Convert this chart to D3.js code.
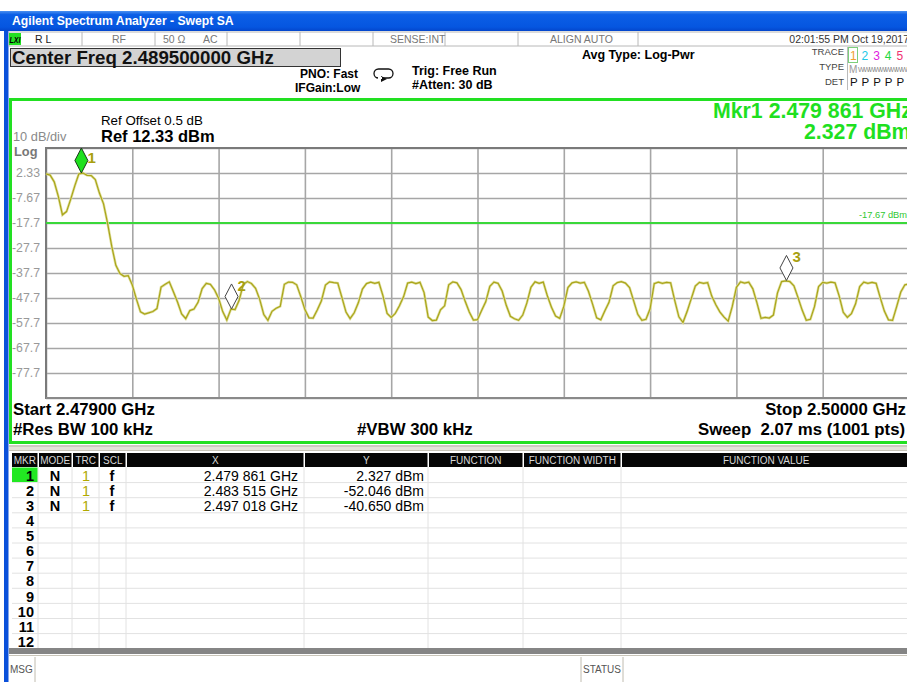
<!DOCTYPE html>
<html><head><meta charset="utf-8">
<script src="https://cdn.jsdelivr.net/npm/d3@7"></script>
<style>
body{margin:0;background:#fff;}
svg{display:block;font-family:"Liberation Sans",Arial,sans-serif;}
</style>
</head><body>
<svg id="c" width="907" height="682"></svg>
<script>
// ---------------- DATA ----------------
const startMHz = 2479.0, stopMHz = 2500.0, stepMHz = 0.1;
const refLevel = 12.33, dbPerDiv = 10, nDiv = 10;
const traceLevels = [
 2.0,1.5,-1.2,-7.0,-14.4,-13.1,-8.2,-2.8,2.0,2.3,
 1.4,1.3,-0.3,-5.7,-10.0,-17.9,-27.0,-34.6,-37.9,-39.0,
 -38.7,-42.5,-48.1,-53.2,-54.1,-53.6,-53.1,-51.9,-43.3,-42.2,
 -41.2,-45.2,-49.3,-54.0,-55.9,-52.7,-52.1,-49.4,-43.9,-41.8,
 -42.2,-44.4,-47.8,-53.1,-56.5,-52.1,-52.3,-48.6,-42.2,-41.1,
 -41.9,-43.8,-48.2,-54.3,-56.6,-53.0,-51.8,-51.0,-42.2,-41.3,
 -41.4,-42.4,-47.1,-52.3,-55.6,-55.7,-52.5,-48.9,-42.5,-41.2,
 -41.5,-41.7,-47.4,-53.3,-55.9,-53.6,-49.6,-44.1,-41.9,-41.3,
 -41.8,-41.4,-46.8,-53.8,-55.4,-53.8,-50.8,-47.2,-41.7,-41.3,
 -41.9,-41.4,-45.5,-55.3,-56.7,-56.5,-52.4,-50.8,-42.4,-41.2,
 -41.6,-44.3,-49.0,-53.3,-56.5,-56.3,-52.7,-49.2,-43.0,-41.3,
 -41.8,-44.9,-50.6,-55.0,-56.0,-56.6,-54.5,-49.7,-43.4,-41.2,
 -41.8,-41.3,-46.8,-51.4,-54.9,-55.8,-51.0,-43.5,-41.6,-41.2,
 -41.7,-41.4,-45.0,-50.1,-55.6,-56.4,-52.8,-49.4,-42.8,-41.5,
 -41.1,-41.7,-43.5,-48.8,-54.2,-56.6,-56.2,-52.0,-41.9,-41.3,
 -41.8,-41.4,-41.6,-48.7,-55.2,-57.5,-53.1,-48.0,-42.9,-41.4,
 -41.8,-41.5,-46.9,-50.4,-53.3,-55.3,-56.9,-51.0,-43.4,-41.2,
 -41.7,-41.3,-44.0,-49.6,-55.8,-55.4,-55.7,-54.5,-45.6,-41.1,
 -40.8,-41.1,-42.8,-47.5,-52.5,-56.6,-56.2,-51.1,-43.1,-41.4,
 -41.7,-41.3,-41.6,-46.8,-53.4,-55.4,-53.9,-50.0,-43.1,-41.3,
 -41.8,-41.4,-41.8,-47.5,-52.9,-56.4,-56.6,-51.1,-45.3,-42.4,
 -42.0];
const yTickValues = [2.33,-7.67,-17.67,-27.67,-37.67,-47.67,-57.67,-67.67,-77.67];
const yTickLabels = ["2.33","-7.67","-17.7","-27.7","-37.7","-47.7","-57.7","-67.7","-77.7"];
const displayLine = -17.67;
const displayLineLabel = "-17.67 dBm";
const markerNums = [1,2,3];
const markerFreqs = [2479.861, 2483.515, 2497.018];
const markerLevels = [2.327, -52.046, -40.650];
const markerXText = ["2.479 861 GHz","2.483 515 GHz","2.497 018 GHz"];
const markerYText = ["2.327 dBm","-52.046 dBm","-40.650 dBm"];
const tableHeaders = ["MKR","MODE","TRC","SCL","X","Y","FUNCTION","FUNCTION WIDTH","FUNCTION VALUE"];
const tableRowCount = 12;

// ---------------- DRAW ----------------
const svg = d3.select("#c");
const FONT = '"Liberation Sans",Arial,sans-serif';

// window chrome
const defs = svg.append("defs");
const g1 = defs.append("linearGradient").attr("id","tb").attr("x1",0).attr("y1",0).attr("x2",0).attr("y2",1);
g1.append("stop").attr("offset","0%").attr("stop-color","#4a90f0");
g1.append("stop").attr("offset","18%").attr("stop-color","#0c5fe6");
g1.append("stop").attr("offset","80%").attr("stop-color","#0556e0");
g1.append("stop").attr("offset","100%").attr("stop-color","#0346cc");
svg.append("rect").attr("x",0).attr("y",11).attr("width",907).attr("height",20).attr("fill","url(#tb)");
svg.append("text").attr("x",12).attr("y",25).attr("fill","#fff").attr("font-weight","bold")
  .attr("font-size",12.2).text("Agilent Spectrum Analyzer - Swept SA");
svg.append("rect").attr("x",4).attr("y",31).attr("width",4.5).attr("height",651).attr("fill","#0a50da");

// status row
svg.append("rect").attr("x",9).attr("y",32).attr("width",900).attr("height",14).attr("fill","#fff").attr("stroke","#b8b8b8");
[82,155,227,300,373,445,518,638].forEach(x=>{
  svg.append("line").attr("x1",x).attr("x2",x).attr("y1",32).attr("y2",46).attr("stroke","#b8b8b8");
});
svg.append("rect").attr("x",9).attr("y",33).attr("width",12).attr("height",12).attr("fill","#22e022");
svg.append("text").attr("x",9.5).attr("y",43).attr("font-size",9).attr("font-weight","bold").attr("font-style","italic")
  .attr("textLength",11).attr("lengthAdjust","spacingAndGlyphs").attr("fill","#000").text("LXI");
const stTxt = [["R L",35,"start","#222"],["RF",112,"start","#777"],["50 Ω",163,"start","#777"],["AC",203,"start","#777"],
  ["SENSE:INT",390,"start","#777"],["ALIGN AUTO",550,"start","#777"],["02:01:55 PM Oct 19,2017",909,"end","#333"]];
stTxt.forEach(d=>svg.append("text").attr("x",d[1]).attr("y",43).attr("font-size",10.5).attr("fill",d[3]).attr("text-anchor",d[2]).text(d[0]));

// center freq box
svg.append("rect").attr("x",10.5).attr("y",48.5).attr("width",330).attr("height",18).attr("fill","#d3d3d3").attr("stroke","#333");
svg.append("text").attr("x",12).attr("y",64).attr("font-size",18.7).attr("font-weight","bold").attr("fill","#111").text("Center Freq 2.489500000 GHz");

svg.append("text").attr("x",300).attr("y",78).attr("font-size",12).attr("font-weight","bold").text("PNO: Fast");
svg.append("text").attr("x",295).attr("y",92).attr("font-size",12).attr("font-weight","bold").text("IFGain:Low");
svg.append("rect").attr("x",374).attr("y",69).attr("width",19).attr("height",9).attr("rx",4.5).attr("fill","none").attr("stroke","#111").attr("stroke-width",1.3);
svg.append("path").attr("d","M381,76 L387,79 L381,82 Z").attr("fill","#111");
svg.append("rect").attr("x",378).attr("y",77).attr("width",4).attr("height",2).attr("fill","#fff");
svg.append("text").attr("x",412).attr("y",75).attr("font-size",12.5).attr("font-weight","bold").text("Trig: Free Run");
svg.append("text").attr("x",412).attr("y",89).attr("font-size",12.5).attr("font-weight","bold").text("#Atten: 30 dB");
svg.append("text").attr("x",582).attr("y",59).attr("font-size",12.5).attr("font-weight","bold").text("Avg Type: Log-Pwr");

// trace indicator
[["TRACE",55],["TYPE",70],["DET",85]].forEach(d=>svg.append("text").attr("x",844).attr("y",d[1]).attr("font-size",9.5).attr("fill","#444").attr("text-anchor","end").text(d[0]));
svg.append("line").attr("x1",847.5).attr("x2",847.5).attr("y1",47).attr("y2",90).attr("stroke","#bbb");
svg.append("rect").attr("x",848.5).attr("y",47.5).attr("width",9).attr("height",15).attr("fill","none").attr("stroke","#7ccf7c");
const trCols = ["#f0a030","#20c8e8","#e020e0","#20d840","#f03070","#8030f0"];
trCols.forEach((c,i)=>{
  svg.append("text").attr("x",850+i*11.6).attr("y",60).attr("font-size",12).attr("fill",c).text(i+1);
  svg.append("text").attr("x",850+i*11.6).attr("y",86).attr("font-size",11.5).attr("fill","#111").text("P");
});
svg.append("text").attr("x",849).attr("y",73).attr("font-size",10).attr("fill","#999").text("M");
svg.append("text").attr("x",858).attr("y",72).attr("font-size",7).attr("fill","#888").attr("letter-spacing",-1.2).text("WWWWWWWWWWW");

// graph panel frame
svg.append("rect").attr("x",9).attr("y",98).attr("width",910).attr("height",3).attr("fill","#22e022");
svg.append("rect").attr("x",9).attr("y",98).attr("width",3).attr("height",346).attr("fill","#22e022");
svg.append("rect").attr("x",9).attr("y",441).attr("width",910).attr("height",3).attr("fill","#22e022");

// scales
const x = d3.scaleLinear().domain([startMHz, stopMHz]).range([46, 909]);
const y = d3.scaleLinear().domain([refLevel - dbPerDiv*nDiv, refLevel]).range([398, 148]);

// grid via axes
const gridX = svg.append("g").attr("transform","translate(0,398)")
  .call(d3.axisBottom(x).tickValues(d3.range(0,nDiv+1).map(i=>startMHz+i*(stopMHz-startMHz)/nDiv)).tickSize(-250).tickFormat(""));
gridX.selectAll("line").attr("stroke","#a6a6a6").attr("stroke-width",1.6);
gridX.select(".domain").remove();
const gridY = svg.append("g").attr("transform","translate(46,0)")
  .call(d3.axisLeft(y).tickValues(d3.range(0,nDiv+1).map(i=>refLevel-i*dbPerDiv)).tickSize(-863).tickFormat(""));
gridY.selectAll("line").attr("stroke","#a6a6a6").attr("stroke-width",1.6);
gridY.select(".domain").remove();
// borders
svg.append("line").attr("x1",46).attr("x2",909).attr("y1",148).attr("y2",148).attr("stroke","#7a7a7a").attr("stroke-width",2);
svg.append("line").attr("x1",46).attr("x2",46).attr("y1",147).attr("y2",399).attr("stroke","#7a7a7a").attr("stroke-width",2);
svg.append("line").attr("x1",46).attr("x2",909).attr("y1",398).attr("y2",398).attr("stroke","#8a8a8a").attr("stroke-width",2);

// y labels
const yAx = svg.append("g").attr("transform","translate(43,0)")
  .call(d3.axisLeft(y).tickValues(yTickValues).tickSize(0).tickFormat((d,i)=>yTickLabels[i]));
yAx.select(".domain").remove();
yAx.selectAll("text").attr("font-family",FONT).attr("font-size",12.3).attr("fill","#999").attr("dx",0);

// display line
svg.append("line").attr("x1",46).attr("x2",909).attr("y1",y(displayLine)).attr("y2",y(displayLine)).attr("stroke","#3ad83a").attr("stroke-width",2);
svg.append("text").attr("x",859).attr("y",y(displayLine)-5).attr("font-size",9.3).attr("fill","#30c830").text(displayLineLabel);

// texts
svg.append("text").attr("x",101).attr("y",125).attr("font-size",13.3).text("Ref Offset 0.5 dB");
svg.append("text").attr("x",101).attr("y",142).attr("font-size",16.5).attr("font-weight","bold").text("Ref 12.33 dBm");
svg.append("text").attr("x",13).attr("y",141).attr("font-size",12.8).attr("fill","#8a8a8a").text("10 dB/div");
svg.append("text").attr("x",14).attr("y",156).attr("font-size",12.8).attr("font-weight","bold").attr("fill","#777").text("Log");
svg.append("text").attr("x",713).attr("y",118).attr("font-size",21.3).attr("font-weight","bold").attr("fill","#1fe01f").text("Mkr1 2.479 861 GHz");
svg.append("text").attr("x",804).attr("y",139).attr("font-size",21.3).attr("font-weight","bold").attr("fill","#1fe01f").text("2.327 dBm");

// trace
const pts = traceLevels.map((v,i)=>[startMHz + i*stepMHz, v]);
const line = d3.line().x(d=>x(d[0])).y(d=>y(d[1]));
svg.append("path").attr("d",line(pts)).attr("fill","none").attr("stroke","#e0df9e").attr("stroke-width",2.6);
svg.append("path").attr("d",line(pts)).attr("fill","none").attr("stroke","#a9a51a").attr("stroke-width",1.2);

// markers
markerNums.forEach((m,i)=>{
  const mx = x(markerFreqs[i]), my = y(markerLevels[i]);
  const active = i===0;
  svg.append("path").attr("d",`M${mx},${my} L${mx+6.5},${my-12.5} L${mx},${my-25} L${mx-6.5},${my-12.5} Z`)
    .attr("fill",active?"#1ee01e":"#fff").attr("stroke",active?"#1a3a1a":"#444").attr("stroke-width",1);
  svg.append("text").attr("x",mx+6).attr("y",active?my-10:my-18).attr("font-size",15).attr("font-weight","bold").attr("fill","#a8a010").text(m);
});

// bottom annotations
svg.append("text").attr("x",13).attr("y",415).attr("font-size",16.8).attr("font-weight","bold").text("Start 2.47900 GHz");
svg.append("text").attr("x",13).attr("y",435).attr("font-size",16.8).attr("font-weight","bold").text("#Res BW 100 kHz");
svg.append("text").attr("x",357).attr("y",435).attr("font-size",16.8).attr("font-weight","bold").text("#VBW 300 kHz");
svg.append("text").attr("x",906).attr("y",415).attr("text-anchor","end").attr("font-size",16.8).attr("font-weight","bold").text("Stop 2.50000 GHz");
svg.append("text").attr("x",698).attr("y",435).attr("font-size",16.8).attr("font-weight","bold").attr("xml:space","preserve").text("Sweep  2.07 ms (1001 pts)");

// separator band
svg.append("rect").attr("x",9).attr("y",445).attr("width",900).attr("height",6).attr("fill","#e4e2da");
svg.append("line").attr("x1",9).attr("x2",909).attr("y1",446).attr("y2",446).attr("stroke","#b8b4a8");
svg.append("line").attr("x1",9).attr("x2",909).attr("y1",450.5).attr("y2",450.5).attr("stroke","#c8c4b8");

// marker table
const colEdges = [12,39,73,100,127,305,429,524,622,912];
const headTop = 453, headH = 14, rowH = 15.1, rowTop = 467.5;
tableHeaders.forEach((h,i)=>{
  svg.append("rect").attr("x",colEdges[i]).attr("y",headTop).attr("width",colEdges[i+1]-colEdges[i]-1.5).attr("height",headH).attr("fill","#050505");
  svg.append("text").attr("x",(colEdges[i]+colEdges[i+1]-1.5)/2).attr("y",headTop+11).attr("text-anchor","middle")
    .attr("font-size",10).attr("fill","#d8d8d8").text(h);
});
for(let k=1;k<=tableRowCount;k++){
  svg.append("line").attr("x1",12).attr("x2",909).attr("y1",rowTop+k*rowH).attr("y2",rowTop+k*rowH).attr("stroke","#e2e2e2");
}
colEdges.slice(1,9).forEach(cx=>{
  svg.append("line").attr("x1",cx-1).attr("x2",cx-1).attr("y1",467).attr("y2",648).attr("stroke","#e2e2e2");
});
svg.append("rect").attr("x",12).attr("y",467.5).attr("width",25.5).attr("height",14.5).attr("fill","#22e822");
for(let k=1;k<=tableRowCount;k++){
  const by = rowTop + (k-1)*rowH + 13.2;
  svg.append("text").attr("x",34).attr("y",by).attr("text-anchor","end").attr("font-size",14.5).attr("font-weight","bold").text(k);
}
markerNums.forEach((m,i)=>{
  const by = rowTop + i*rowH + 13.2;
  svg.append("text").attr("x",55).attr("y",by).attr("text-anchor","middle").attr("font-size",14.5).attr("font-weight","bold").text("N");
  svg.append("text").attr("x",86).attr("y",by).attr("text-anchor","middle").attr("font-size",14.5).attr("fill","#b0a800").text("1");
  svg.append("text").attr("x",112).attr("y",by).attr("text-anchor","middle").attr("font-size",14.5).attr("font-weight","bold").text("f");
  svg.append("text").attr("x",298).attr("y",by).attr("text-anchor","end").attr("font-size",14).text(markerXText[i]);
  svg.append("text").attr("x",424).attr("y",by).attr("text-anchor","end").attr("font-size",14).text(markerYText[i]);
});

// bottom status bar
svg.append("rect").attr("x",9).attr("y",648).attr("width",900).attr("height",6).attr("fill","#858585");
svg.append("line").attr("x1",9).attr("x2",909).attr("y1",655.5).attr("y2",655.5).attr("stroke","#c8c4b8");
[35,581,623].forEach(cx=>svg.append("line").attr("x1",cx).attr("x2",cx).attr("y1",657).attr("y2",682).attr("stroke","#c0bcb0"));
svg.append("text").attr("x",10).attr("y",673).attr("font-size",10).attr("fill","#555").text("MSG");
svg.append("text").attr("x",583).attr("y",673).attr("font-size",10).attr("fill","#555").text("STATUS");
</script>
</body></html>
